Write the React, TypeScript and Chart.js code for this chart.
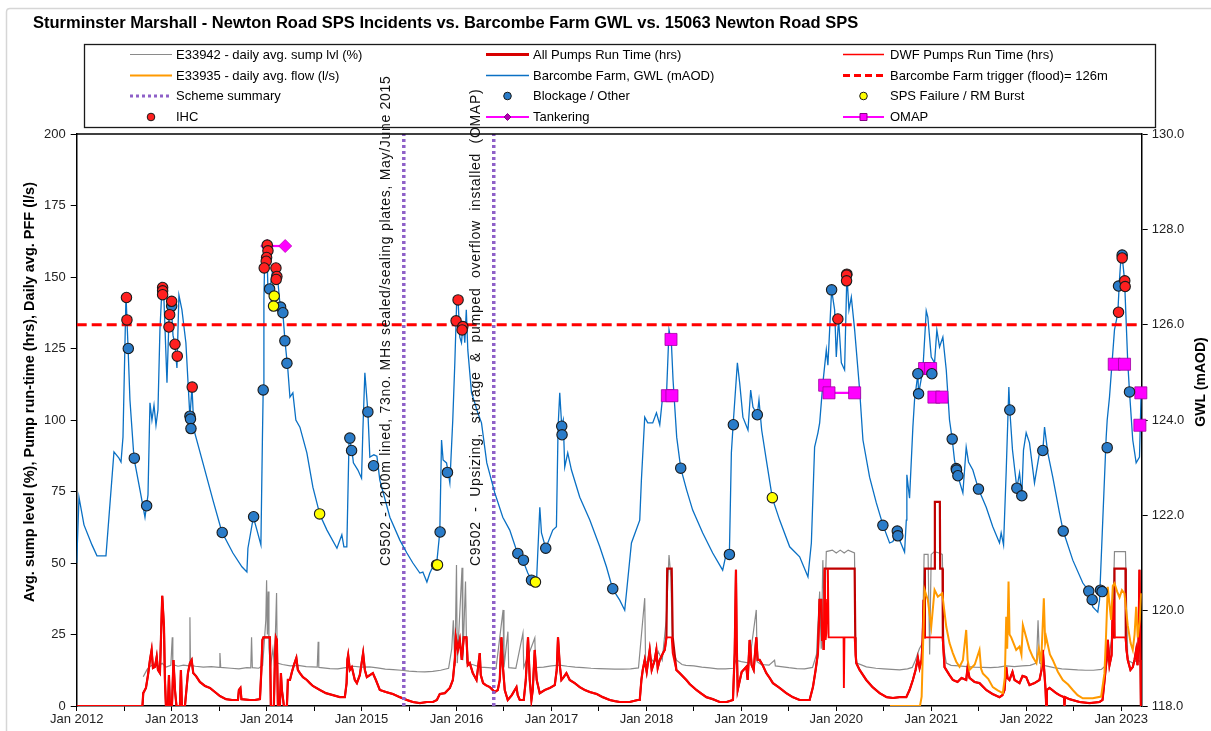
import React, { useEffect, useRef } from 'react';
import { Chart, registerables } from 'chart.js';

Chart.register(...registerables);

const FONT = '"Liberation Sans", Arial, Helvetica, sans-serif';

const TITLE = 'Sturminster Marshall - Newton Road SPS Incidents vs. Barcombe Farm GWL vs. 15063 Newton Road SPS';
const LEFT_TITLE = 'Avg. sump level (%), Pump run-time (hrs), Daily avg. PFF (l/s)';
const RIGHT_TITLE = 'GWL (mAOD)';

// x values are months after 1 Jan 2012
const START_YEAR = 2012;
const X_MAX = 134.6;
const X_TICK_STEP = 6;
const TRIGGER_LEVEL = 126;

type P = [number, number];

// Barcombe Farm GWL (mAOD)
const gwl: P[] = [
  [0,121.0],[0.29,122.38],[0.92,121.80],[1.93,121.38],[2.56,121.15],[3.70,121.15],[4.71,123.33],[5.34,123.20],[5.60,123.12],[5.85,123.64],[6.23,126.62],[6.48,125.57],[6.73,124.42],[7.24,123.20],[8.0,122.53],[8.63,121.96],[9.01,122.43],[9.26,124.36],[9.51,124.00],[9.77,124.31],[10.02,123.89],[10.27,124.21],[10.52,125.89],[10.78,126.79],[11.03,126.52],[11.41,124.78],[11.66,126.10],[11.91,126.52],[12.17,125.78],[12.42,125.57],[12.67,125.09],[12.92,126.62],[13.30,126.31],[13.80,125.62],[14.19,124.42],[14.31,124.06],[14.57,124.69],[14.82,123.79],[15.95,123.10],[17.22,122.32],[18.35,121.65],[19.74,121.21],[20.88,120.92],[21.51,120.81],[21.64,121.31],[22.33,121.96],[22.78,121.69],[23.28,121.38],[23.47,123.58],[23.57,124.63],[23.66,126.52],[23.79,127.67],[24.04,127.57],[24.17,126.73],[24.42,126.73],[24.80,127.19],[25.18,127.04],[25.43,126.90],[25.68,126.45],[26.06,126.24],[26.31,125.68],[26.69,125.05],[26.95,124.48],[27.32,124.57],[27.70,124.00],[28.21,123.85],[29.09,123.31],[29.85,122.59],[30.74,122.01],[31.63,121.69],[32.89,121.31],[33.51,121.59],[33.77,121.34],[34.14,121.34],[34.43,123.64],[34.78,123.37],[34.97,123.10],[35.54,122.95],[36.0,122.78],[36.17,123.79],[36.42,124.99],[36.80,124.17],[37.05,123.22],[37.56,123.27],[37.94,123.24],[38.31,122.74],[39.58,121.96],[40.84,121.48],[41.73,121.21],[42.49,121.00],[43.37,120.79],[43.75,120.81],[44.26,120.60],[44.63,120.79],[45.01,120.92],[45.48,120.96],[45.89,121.65],[46.11,123.58],[46.31,123.16],[46.74,123.10],[47.16,122.68],[47.53,124.00],[47.79,125.20],[48.04,126.58],[48.20,126.52],[48.42,125.74],[48.63,125.62],[48.84,126.04],[49.05,125.62],[49.24,126.31],[49.43,125.47],[49.90,124.57],[50.31,124.36],[50.69,124.15],[51.16,123.94],[51.83,123.10],[52.84,122.47],[53.85,121.96],[54.73,121.69],[55.74,121.19],[56.38,121.06],[57.01,120.79],[57.48,120.64],[58.11,120.60],[58.53,122.17],[58.74,121.63],[59.28,121.31],[60.17,121.69],[60.63,121.76],[60.84,123.85],[61.05,124.57],[61.30,123.87],[61.49,124.00],[61.68,123.01],[62.06,123.31],[62.53,122.95],[63.58,122.38],[64.85,121.90],[66.11,121.34],[66.95,120.92],[67.75,120.45],[68.63,120.22],[69.26,120.01],[69.48,120.37],[70.11,121.42],[71.16,121.90],[71.37,122.74],[71.79,124.06],[72.17,123.94],[72.80,123.94],[73.27,124.15],[73.69,123.90],[74.10,124.57],[74.53,124.48],[74.86,125.89],[75.16,125.62],[75.37,124.84],[75.83,123.64],[76.34,122.99],[77.09,122.53],[77.85,122.11],[79.12,121.63],[80.38,121.21],[81.64,120.85],[82.11,121.21],[82.49,121.19],[82.74,123.31],[82.97,123.92],[83.50,125.20],[83.79,124.78],[84.20,124.06],[84.84,123.79],[85.18,124.63],[85.47,124.27],[86.02,124.11],[86.23,124.42],[86.57,123.79],[87.16,123.16],[87.92,122.36],[88.84,121.90],[90.11,121.34],[91.37,121.13],[92.22,120.79],[92.42,120.71],[92.85,121.42],[93.26,123.43],[93.68,123.73],[93.90,123.94],[94.31,124.78],[94.74,125.47],[94.94,125.15],[95.41,126.73],[95.79,126.31],[96.00,125.32],[96.29,126.12],[96.64,125.20],[97.05,125.05],[97.34,127.06],[97.60,126.31],[97.90,126.58],[98.32,125.89],[98.95,124.63],[99.37,123.58],[100.21,122.80],[101.06,122.26],[101.89,121.80],[102.74,121.42],[103.16,121.45],[103.71,121.67],[104.0,121.48],[104.63,121.23],[104.85,121.90],[104.92,122.85],[105.26,122.36],[105.68,123.85],[105.89,124.42],[106.31,124.97],[106.40,124.55],[106.94,125.05],[107.37,126.29],[107.57,126.16],[108.0,125.32],[108.42,125.20],[108.71,125.89],[109.05,125.53],[109.47,125.74],[109.90,125.05],[110.31,124.00],[110.65,123.60],[110.94,123.16],[111.36,122.83],[112.00,122.47],[112.42,123.43],[112.71,123.12],[113.26,122.95],[113.97,122.55],[114.95,122.17],[115.78,121.76],[116.63,121.42],[116.84,121.63],[117.14,121.38],[117.48,122.95],[117.68,124.00],[117.81,124.69],[117.93,124.21],[118.27,123.37],[118.82,122.57],[119.16,122.89],[119.45,122.41],[119.66,123.37],[120.0,123.73],[120.42,123.52],[121.05,122.68],[121.68,123.31],[122.10,123.35],[122.32,123.85],[122.73,123.31],[123.36,122.80],[124.21,122.05],[124.68,121.67],[125.89,121.06],[127.16,120.58],[127.91,120.41],[128.42,120.08],[129.05,119.97],[129.27,120.22],[129.68,121.90],[130.11,123.64],[130.24,124.00],[130.53,124.48],[131.16,125.89],[131.58,126.24],[131.79,126.94],[132.05,127.57],[132.43,126.94],[132.84,125.20],[133.06,124.59],[133.47,123.58],[133.90,123.10],[134.32,123.22],[134.53,124.59]
];

// E33942 daily avg. sump level (%)
const sumpLevel: P[] = [
  [8.41,10.2],[8.9,12.8],[9.3,13.9],[9.8,14.6],[10.3,13.8],[10.8,14.9],[11.3,13.6],[11.9,14.2],[12.0,20],[12.08,24],[12.15,14.5],[12.8,13.9],[13.5,14.3],[14.2,14.0],[14.31,31],[14.38,14.2],[15.0,13.9],[16,13.6],[17,13.8],[18.0,13.5],[18.1,18.5],[18.2,13.5],[19.5,13.2],[20.5,13.0],[21.5,13.4],[22.0,13.3],[22.1,24],[22.2,13.4],[23.0,13.2],[23.5,14.2],[23.9,30],[24.0,44],[24.1,25],[24.2,40],[24.3,20],[24.5,13.8],[24.8,20],[25.0,14],[25.26,39.5],[25.35,15],[26,14.5],[27,14.0],[28,14.2],[29,13.8],[30.4,13.6],[30.52,22.5],[30.6,13.5],[32,13.1],[33,13.0],[34.2,13.5],[35,13.9],[36,13.6],[37,13.7],[38,13.3],[39,12.9],[40,12.7],[41,12.5],[42,12.2],[43,12.0],[44,11.9],[45,12.1],[46,12.5],[47,13.2],[47.4,20],[47.6,30],[47.8,14],[48.0,49.3],[48.1,15],[48.7,48.3],[48.8,16],[49.14,43.5],[49.3,15],[50,14.5],[51,13.6],[52,13.4],[53,13.2],[53.89,33.6],[54.0,13.5],[54.5,26],[54.6,13.4],[55.5,13.2],[56.4,25.5],[56.5,13.5],[57.9,23.8],[58.0,13.4],[59,13.6],[60,14.0],[61,14.3],[62,13.9],[63,13.6],[64,13.4],[65,13.2],[66,13.1],[67,13.0],[68,12.9],[69,12.9],[70,13.0],[71,13.3],[71.79,37.7],[71.9,15],[72.5,17],[73,15],[73.5,19],[74.0,16],[74.5,30],[74.86,52.8],[75.1,45],[75.3,20],[75.8,16],[76.5,14.5],[77,14.2],[78,14.0],[79,13.6],[80,13.3],[81,13.0],[82,13.0],[83,13.2],[83.3,16],[84,15.5],[85,15],[85.89,33.6],[86.0,15.5],[86.5,14.5],[87.5,14.3],[88.2,16],[88.3,14],[89,13.8],[90,13.4],[91,13.1],[92,13.0],[93,13.5],[93.5,18],[93.9,40],[94.1,20],[94.3,51],[94.5,30],[94.74,54],[95.5,54.5],[96,53.5],[96.5,54.5],[97,53.5],[97.5,54.5],[98.3,53.5],[98.45,20],[98.6,15],[99.8,13.7],[101,13.2],[102,13.0],[103,12.8],[104,12.6],[105,13.0],[105.6,13.5],[106,16],[106.5,20],[106.9,22],[107.1,53],[107.6,53],[107.8,18],[108.0,53],[108.4,54],[109.0,53.5],[109.4,53],[109.6,20],[109.9,15],[110.5,14.2],[111.5,14.0],[112.5,13.8],[113.5,13.6],[114.5,13.5],[115.5,13.4],[116.5,13.6],[117.5,14.0],[118.5,13.8],[119.5,14.0],[120.5,14.2],[121.3,15],[121.5,30],[121.7,15],[122.5,14],[123.5,13.4],[124.5,13.0],[125.5,12.8],[126.5,12.6],[127.5,12.5],[128.5,12.5],[129.5,12.8],[130,14],[130.5,18],[130.9,25],[131.16,54],[132.55,54],[132.84,16],[133.47,15],[134.0,16],[134.5,15.5]
];

// DWF pumps run time (hrs)
const dwfRunTime: P[] = [
  [0,0],[8.31,0],[8.41,4.5],[8.75,6.3],[9.01,10.8],[9.26,16.1],[9.47,19.6],[9.64,13.3],[9.89,13.7],[10.11,17.2],[10.27,12.6],[10.52,11.5],[10.81,38.5],[11.03,27.7],[11.15,9.1],[11.28,0],[11.53,0],[11.66,10.8],[11.78,0],[12.04,0],[12.23,16.1],[12.42,5.6],[12.61,0],[13.05,0],[13.17,12.6],[13.30,0],[13.68,0],[14.06,11.5],[14.31,15.0],[14.53,16.1],[14.73,11.5],[15.07,10.5],[15.57,8.4],[16.21,7.0],[16.84,6.3],[17.47,4.9],[18.10,3.5],[18.86,2.4],[19.62,2.1],[20.38,2.1],[20.50,5.6],[20.69,6.3],[20.82,2.4],[21.89,2.1],[22.52,2.1],[23.16,2.4],[23.34,12.6],[23.47,23.1],[23.60,24],[24.42,24],[24.54,0],[24.92,0],[25.05,16.1],[25.17,24],[25.30,23.1],[25.43,0],[25.68,0],[25.81,11.5],[25.93,5.6],[26.19,0],[26.57,0],[26.69,9.1],[26.95,9.1],[27.20,11.9],[27.45,14.3],[27.76,16.8],[27.95,12.6],[28.21,11.5],[28.59,10.1],[29.09,9.1],[29.47,8.0],[29.85,7.0],[30.74,5.6],[31.49,4.5],[32.38,3.8],[33.26,3.1],[33.89,3.1],[34.11,8.0],[34.21,16.1],[34.31,17.8],[34.52,12.6],[34.77,13.6],[35.15,9.1],[35.41,8.0],[35.78,10.8],[36.20,18.5],[36.42,12.6],[36.67,10.1],[37.05,10.8],[37.43,11.5],[37.81,9.1],[38.31,5.6],[39.07,4.9],[39.95,4.2],[40.84,3.1],[41.72,2.1],[42.48,1.4],[43.37,1.0],[44.25,1.4],[45.01,1.4],[45.52,2.1],[45.89,4.2],[46.53,4.5],[47.16,6.3],[47.54,9.1],[47.79,16.1],[47.91,24],[48.17,19.6],[48.42,23.1],[48.67,16.1],[48.92,24],[49.26,24],[49.43,14.3],[49.68,15.0],[50.06,11.5],[50.53,9.1],[50.69,12.6],[50.94,18.5],[51.07,10.8],[51.36,8.0],[51.70,7.3],[52.21,6.6],[52.84,4.9],[53.22,5.6],[53.47,9.1],[53.68,24],[53.85,14.3],[54.10,5.6],[54.48,2.1],[54.99,3.8],[55.58,6.6],[55.74,3.8],[56.00,2.1],[56.50,2.1],[56.76,9.1],[57.04,24],[57.26,9.1],[57.47,2.1],[57.64,5.6],[57.89,19.6],[58.14,9.1],[58.52,4.5],[59.16,5.6],[59.79,6.3],[60.42,7.3],[60.67,12.6],[60.83,24],[61.05,14.3],[61.26,9.1],[61.55,10.1],[61.89,11.5],[62.31,9.1],[62.94,8.0],[63.58,6.6],[64.21,5.6],[64.84,4.9],[65.72,4.2],[66.48,3.1],[67.37,2.1],[68.00,1.7],[68.63,1.4],[69.89,1.4],[70.90,2.1],[71.16,2.1],[71.37,9.1],[71.54,12.6],[71.79,16.1],[72.04,11.9],[72.42,19.6],[72.67,12.6],[73.05,16.1],[73.26,19.6],[73.43,13.3],[73.69,16.1],[74.10,18.5],[74.32,19.6],[74.53,24],[75.20,24],[75.33,18.5],[75.79,12.6],[76.21,11.5],[77.05,9.1],[77.47,7.7],[78.32,5.6],[78.86,4.5],[79.58,3.1],[80.38,2.4],[81.26,1.4],[82.15,1.4],[82.94,2.1],[83.16,18.5],[83.32,47.6],[83.41,23.1],[83.54,5.6],[84.04,11.9],[84.63,13.7],[84.80,9.1],[85.05,23.1],[85.30,14.3],[85.56,12.6],[85.89,24],[86.06,16.1],[86.31,16.1],[86.69,14.3],[87.16,11.5],[87.58,9.8],[87.99,8.0],[88.84,6.3],[89.68,4.5],[90.48,3.1],[91.37,2.1],[92.63,2.1],[93.05,6.6],[93.39,12.6],[93.68,18.5],[93.89,37.1],[94.11,37.1],[94.21,23.1],[94.31,29.0],[94.40,19.6],[94.53,48],[94.65,23.1],[94.74,25.5],[94.84,37.1],[94.94,48],[95.03,24],[96.92,24],[96.96,6.3],[97.03,24],[98.32,24],[98.45,17.8],[98.53,15.0],[98.95,12.6],[99.79,9.1],[100.59,6.6],[101.48,4.5],[102.36,3.1],[103.16,2.8],[104.00,3.1],[104.85,3.1],[105.26,5.6],[105.68,9.1],[106.02,12.6],[106.31,16.8],[106.53,13.3],[106.78,16.1],[106.91,23.1],[107.04,37.1],[107.16,24],[109.43,24],[109.55,19.6],[109.68,13.6],[110.31,10.8],[110.73,9.1],[111.32,8.4],[111.83,9.8],[112.42,9.1],[112.59,13.3],[112.84,9.8],[113.47,8.4],[114.10,8.0],[114.95,5.6],[115.74,4.2],[116.63,3.1],[117.01,3.8],[117.26,5.6],[117.48,13.6],[117.64,9.8],[117.89,9.1],[118.27,11.9],[118.53,9.1],[119.16,8.0],[119.54,10.5],[120.00,10.1],[120.42,7.3],[121.05,8.0],[121.68,9.1],[121.94,12.6],[122.10,19.6],[122.32,10.8],[122.45,5.6],[122.53,0],[122.61,5.6],[122.95,6.3],[123.80,4.5],[124.21,3.8],[124.78,3.1],[124.84,0],[124.91,3.1],[125.47,2.4],[126.74,1.4],[128.00,1.0],[129.27,1.4],[129.65,2.1],[129.91,9.1],[130.16,16.1],[130.32,23.1],[130.53,14.3],[130.79,17.8],[130.91,30.1],[131.04,37.1],[131.16,24],[132.55,24],[132.68,19.6],[132.84,16.1],[133.18,12.6],[133.47,13.6],[133.69,16.1],[133.90,19.6],[134.07,14.3],[134.20,23.1],[134.32,47.6],[134.44,16.1],[134.50,0]
];

// All pumps run time (hrs): periods where both pumps ran (differs from DWF)
const allPumpsPeaks: P[][] = [
  [[74.53,24],[74.63,48],[75.20,48],[75.33,24]],
  [[94.47,24],[94.53,48],[98.32,48],[98.40,24]],
  [[107.12,24],[107.20,48],[108.42,48],[108.46,71.4],[109.09,71.4],[109.13,48],[109.43,48],[109.47,24]],
  [[131.12,24],[131.16,48],[132.55,48],[132.59,24]]
];

// E33935 daily avg. flow (l/s)
const flow: P[] = [
  [102.79,0],[106.58,0],[106.79,3.3],[107.16,40.6],[107.57,37.1],[108.0,27.7],[108.42,40.6],[108.84,38.2],[109.39,39.4],[109.90,27.7],[110.31,22],[110.73,18.5],[111.16,15.5],[111.58,13.7],[112.0,16],[112.42,26.6],[112.6,16],[112.84,12.6],[113.5,14.5],[114.10,19.6],[114.3,13],[114.52,11.4],[115.2,9.5],[115.78,6.6],[116.4,5.5],[117.05,4.5],[117.3,10],[117.48,31.2],[117.6,20],[117.77,43.5],[117.9,25],[118.11,24],[118.74,19.6],[119.16,20.8],[119.4,18],[119.58,28.3],[120.0,24],[120.4,20],[120.84,17.1],[121.3,15],[121.6,20],[121.9,15.5],[122.23,37.7],[122.4,22],[122.53,24],[123.0,18],[123.36,16.1],[124.0,12],[124.63,9.1],[125.3,7.5],[125.89,5.6],[126.5,3.8],[127.15,2.7],[128.42,2.7],[129.47,3.3],[129.89,11.4],[130.1,25],[130.31,41.7],[130.55,35],[130.74,30.1],[130.95,42],[131.16,42.9],[131.5,40],[131.8,38],[132.1,40.5],[132.42,39.4],[132.84,28.1],[133.2,22],[133.47,19.6],[133.7,25],[133.90,34.7],[134.1,24],[134.35,30],[134.53,39.4]
];

// Incidents (month, GWL at time of incident)
const ihc: P[] = [
  [6.29,126.57],[6.35,126.10],[10.86,126.78],[10.86,126.71],[10.86,126.63],[12.0,126.49],[11.75,126.21],[11.66,125.95],[12.42,125.59],[12.71,125.34],[14.60,124.69],[24.08,127.67],[24.17,127.55],[24.0,127.41],[23.95,127.33],[23.70,127.19],[25.18,127.19],[25.30,127.01],[25.21,126.95],[48.20,126.52],[47.95,126.08],[48.80,125.96],[48.71,125.89],[96.20,126.12],[97.34,127.06],[97.30,127.04],[97.30,126.92],[132.13,127.40],[132.46,126.92],[132.51,126.80],[131.67,126.26]
];
const blockage: P[] = [
  [6.52,125.50],[7.28,123.20],[8.84,122.20],[12.0,126.39],[14.31,124.08],[14.38,124.02],[14.44,123.82],[18.39,121.64],[22.36,121.97],[23.57,124.63],[24.38,126.75],[25.77,126.37],[26.06,126.25],[26.31,125.66],[26.57,125.19],[34.52,123.62],[34.74,123.36],[36.80,124.17],[37.52,123.04],[45.93,121.65],[46.86,122.90],[55.75,121.20],[56.46,121.06],[57.48,120.64],[59.28,121.31],[61.30,123.87],[61.34,123.69],[67.75,120.46],[76.34,122.99],[82.49,121.18],[82.99,123.90],[86.02,124.11],[95.41,126.73],[101.89,121.79],[103.71,121.67],[103.78,121.57],[106.31,124.97],[106.40,124.55],[108.08,124.97],[110.65,123.60],[111.16,122.98],[111.20,122.95],[111.37,122.83],[113.97,122.55],[117.93,124.21],[118.82,122.57],[119.45,122.41],[122.10,123.36],[124.68,121.67],[127.91,120.41],[128.34,120.23],[129.39,120.43],[129.60,120.40],[130.24,123.42],[131.67,126.81],[132.13,127.46],[133.06,124.59]
];
const spsFailure: P[] = [
  [24.96,126.60],[24.88,126.39],[30.70,122.03],[45.48,120.96],[45.60,120.96],[57.98,120.60],[87.92,122.37]
];
const tankering: P[][] = [[[24.08,127.65],[26.35,127.65]]];
const omap: P[][] = [
  [[75.11,125.69]],
  [[74.65,124.51],[75.23,124.51]],
  [[94.53,124.73],[95.08,124.57],[98.32,124.57]],
  [[107.16,125.08],[107.92,125.08]],
  [[108.34,124.48],[109.35,124.48]],
  [[131.13,125.17],[132.43,125.17]],
  [[134.49,124.57]],
  [[134.37,123.89]]
];

// Scheme summary (month of scheme completion)
const schemeMonths = [41.34, 52.71];
const schemeNotes = [
  'C9502 - 1200m lined, 73no. MHs sealed/sealing plates, May/June 2015',
  'C9502 - Upsizing, storage & pumped overflow installed (OMAP)'
];

const GRAY = '#8a8a8a';
const DARK_RED = '#c00000';
const RED = '#ff0000';
const ORANGE = '#ff9a00';
const BLUE = '#0a70c4';
const PURPLE = '#8e60c8';
const MAGENTA = '#ff00ff';
const MARK_BLUE = '#2a7cc9';
const MARK_RED = '#ff2020';
const MARK_YELLOW = '#ffff00';

const xy = (arr: P[]) => arr.map(([x, y]) => ({ x, y }));
const groupsXY = (groups: P[][]) => {
  const out: { x: number; y: number | null }[] = [];
  groups.forEach((g) => {
    g.forEach(([x, y]) => out.push({ x, y }));
    out.push({ x: g[g.length - 1][0], y: null });
  });
  return out;
};
const buildAllPumps = () => {
  const ranges = allPumpsPeaks.map((g) => [g[0][0], g[g.length - 1][0]]);
  const base = dwfRunTime.filter(([m]) => !ranges.some(([a, b]) => m >= a && m <= b));
  return xy([...base, ...allPumpsPeaks.flat()].sort((a, b) => a[0] - b[0]));
};

type LegendItem = { label: string; kind: string; color?: string; width?: number; fill?: string; shape?: string };
const legendItems: LegendItem[] = [
  { label: 'E33942 - daily avg. sump lvl (%)', kind: 'line', color: GRAY, width: 1.2 },
  { label: 'All Pumps Run Time (hrs)', kind: 'line', color: '#d80000', width: 3 },
  { label: 'DWF Pumps Run Time (hrs)', kind: 'line', color: RED, width: 1.3 },
  { label: 'E33935 - daily avg. flow (l/s)', kind: 'line', color: ORANGE, width: 2 },
  { label: 'Barcombe Farm, GWL (mAOD)', kind: 'line', color: BLUE, width: 1.3 },
  { label: 'Barcombe Farm trigger (flood)= 126m', kind: 'dash', color: RED, width: 3 },
  { label: 'Scheme summary', kind: 'dot', color: PURPLE, width: 3 },
  { label: 'Blockage / Other', kind: 'marker', fill: MARK_BLUE, shape: 'circle' },
  { label: 'SPS Failure / RM Burst', kind: 'marker', fill: MARK_YELLOW, shape: 'circle' },
  { label: 'IHC', kind: 'marker', fill: MARK_RED, shape: 'circle' },
  { label: 'Tankering', kind: 'lineMarker', color: MAGENTA, width: 2.2, fill: '#b000b0', shape: 'diamond' },
  { label: 'OMAP', kind: 'lineMarker', color: MAGENTA, width: 2.2, fill: MAGENTA, shape: 'square' }
];

function drawMarker(ctx: CanvasRenderingContext2D, shape: string, x: number, y: number, r: number, fill: string, stroke: string) {
  ctx.beginPath();
  if (shape === 'circle') ctx.arc(x, y, r, 0, Math.PI * 2);
  else if (shape === 'square') ctx.rect(x - r, y - r, 2 * r, 2 * r);
  else { ctx.moveTo(x, y - r); ctx.lineTo(x + r, y); ctx.lineTo(x, y + r); ctx.lineTo(x - r, y); ctx.closePath(); }
  ctx.fillStyle = fill; ctx.fill();
  ctx.lineWidth = 1; ctx.strokeStyle = stroke; ctx.stroke();
}

const decorPlugin = {
  id: 'decor',
  beforeDraw(chart: any) {
    const ctx: CanvasRenderingContext2D = chart.ctx;
    ctx.save();
    ctx.fillStyle = '#fff';
    ctx.fillRect(0, 0, chart.width, chart.height);
    // outer frame
    ctx.strokeStyle = '#d6d6d6'; ctx.lineWidth = 1.5;
    ctx.beginPath(); ctx.moveTo(6.5, chart.height); ctx.lineTo(6.5, 12); ctx.quadraticCurveTo(6.5, 8.5, 10, 8.5); ctx.lineTo(chart.width, 8.5); ctx.stroke();
    // title
    ctx.fillStyle = '#000'; ctx.font = `bold 16.5px ${FONT}`; ctx.textBaseline = 'middle'; ctx.textAlign = 'left';
    ctx.fillText(TITLE, 33, 23);
    // legend
    ctx.strokeStyle = '#1a1a1a'; ctx.lineWidth = 1.3;
    ctx.strokeRect(84.5, 44.5, 1071, 83);
    const cols = [{ s: 130, e: 172, t: 176 }, { s: 486, e: 529, t: 533 }, { s: 843, e: 884, t: 890 }];
    const rows = [54.5, 75.5, 96, 117];
    ctx.font = `13px ${FONT}`;
    legendItems.forEach((it, i) => {
      const c = cols[i % 3]; const y = rows[Math.floor(i / 3)]; const mid = (c.s + c.e) / 2;
      ctx.save();
      if (it.kind === 'line' || it.kind === 'dash' || it.kind === 'dot' || it.kind === 'lineMarker') {
        ctx.strokeStyle = it.color!; ctx.lineWidth = it.width!;
        if (it.kind === 'dash') ctx.setLineDash([7, 4]);
        if (it.kind === 'dot') ctx.setLineDash([3, 3]);
        ctx.beginPath(); ctx.moveTo(c.s, y); ctx.lineTo(c.e, y); ctx.stroke();
        ctx.setLineDash([]);
      }
      if (it.kind === 'marker') drawMarker(ctx, it.shape!, mid, y, 3.8, it.fill!, '#1a1a1a');
      if (it.kind === 'lineMarker') drawMarker(ctx, it.shape!, mid, y, 3.5, it.fill!, '#8a008a');
      ctx.restore();
      ctx.fillStyle = '#000'; ctx.textBaseline = 'middle'; ctx.textAlign = 'left';
      ctx.fillText(it.label, c.t, y + 0.5);
    });
    ctx.restore();
  },
  afterDraw(chart: any) {
    const ctx: CanvasRenderingContext2D = chart.ctx;
    const a = chart.chartArea;
    const xs = chart.scales.x;
    ctx.save();
    // top border of plot
    ctx.strokeStyle = '#000'; ctx.lineWidth = 1.5;
    ctx.beginPath(); ctx.moveTo(a.left, a.top); ctx.lineTo(a.right, a.top); ctx.stroke();
    // axis titles
    ctx.fillStyle = '#000'; ctx.font = `bold 14.5px ${FONT}`; ctx.textAlign = 'center'; ctx.textBaseline = 'middle';
    ctx.save(); ctx.translate(30, 392); ctx.rotate(-Math.PI / 2); ctx.fillText(LEFT_TITLE, 0, 0); ctx.restore();
    ctx.font = `bold 14px ${FONT}`;
    ctx.save(); ctx.translate(1201, 382); ctx.rotate(-Math.PI / 2); ctx.fillText(RIGHT_TITLE, 0, 0); ctx.restore();
    // scheme notes
    ctx.font = `14px ${FONT}`; ctx.textAlign = 'left'; ctx.fillStyle = '#111';
    schemeMonths.forEach((m, i) => {
      const x = xs.getPixelForValue(m) - 18;
      ctx.save(); ctx.translate(x, a.bottom - 140); ctx.rotate(-Math.PI / 2);
      (ctx as any).letterSpacing = '0.7px';
      if (i === 1) (ctx as any).wordSpacing = '5px';
      ctx.fillText(schemeNotes[i], 0, 0);
      ctx.restore();
    });
    ctx.restore();
  }
};

export default function App() {
  const ref = useRef<HTMLCanvasElement>(null);
  useEffect(() => {
    document.body.style.margin = '0';
    const canvas = ref.current!;
    const tick = { color: '#222', font: { size: 13, family: FONT } };
    const markerDs = (label: string, data: P[], fill: string, order: number) => ({
      label, data: xy(data), showLine: false, pointRadius: 5.2, pointBackgroundColor: fill,
      pointBorderColor: '#1a1a1a', pointBorderWidth: 1.1, yAxisID: 'y1', order, clip: false as any
    });
    const schemeData: { x: number; y: number | null }[] = [];
    schemeMonths.forEach((m) => { schemeData.push({ x: m, y: 0 }, { x: m, y: 200 }, { x: m, y: null }); });

    const chart = new Chart(canvas, {
      type: 'line',
      data: {
        datasets: [
          markerDs('IHC', ihc, MARK_RED, 1),
          markerDs('SPS Failure / RM Burst', spsFailure, MARK_YELLOW, 2),
          markerDs('Blockage / Other', blockage, MARK_BLUE, 3),
          {
            label: 'OMAP', data: groupsXY(omap), yAxisID: 'y1', order: 4, borderColor: MAGENTA, borderWidth: 2.2,
            pointStyle: 'rect', pointRadius: 8.5, pointBackgroundColor: MAGENTA, pointBorderColor: '#a000a0', pointBorderWidth: 0.8,
            spanGaps: false, clip: false as any
          },
          {
            label: 'Tankering', data: groupsXY(tankering), yAxisID: 'y1', order: 5, borderColor: MAGENTA, borderWidth: 2.2,
            pointStyle: 'rectRot', pointRadius: 6.5, pointBackgroundColor: MAGENTA, pointBorderColor: '#c000c0', pointBorderWidth: 0.8,
            spanGaps: false, clip: false as any
          },
          {
            label: 'Barcombe Farm trigger (flood)= 126m', data: [{ x: 0, y: TRIGGER_LEVEL }, { x: X_MAX, y: TRIGGER_LEVEL }],
            yAxisID: 'y1', order: 6, borderColor: RED, borderWidth: 3, borderDash: [10, 5], pointRadius: 0
          },
          {
            label: 'Barcombe Farm, GWL (mAOD)', data: xy(gwl), yAxisID: 'y1', order: 7, borderColor: BLUE, borderWidth: 1.3,
            pointRadius: 0, tension: 0
          },
          {
            label: 'Scheme summary', data: schemeData, yAxisID: 'y', order: 8, borderColor: PURPLE, borderWidth: 3.5,
            borderDash: [3, 3], pointRadius: 0, spanGaps: false
          },
          {
            label: 'E33935 - daily avg. flow (l/s)', data: xy(flow), yAxisID: 'y', order: 9, borderColor: ORANGE, borderWidth: 2,
            pointRadius: 0
          },
          {
            label: 'DWF Pumps Run Time (hrs)', data: xy(dwfRunTime), yAxisID: 'y', order: 10, borderColor: RED, borderWidth: 1.9,
            pointRadius: 0
          },
          {
            label: 'All Pumps Run Time (hrs)', data: buildAllPumps(), yAxisID: 'y', order: 11, borderColor: DARK_RED, borderWidth: 2.2,
            pointRadius: 0
          },
          {
            label: 'E33942 - daily avg. sump lvl (%)', data: xy(sumpLevel), yAxisID: 'y', order: 12, borderColor: GRAY, borderWidth: 1.2,
            pointRadius: 0
          }
        ] as any
      },
      options: {
        animation: false,
        responsive: false,
        events: [],
        layout: { padding: { top: 134, left: 0, right: 0, bottom: 0 } },
        plugins: { legend: { display: false }, title: { display: false }, tooltip: { enabled: false } },
        scales: {
          x: {
            type: 'linear', min: 0, max: X_MAX,
            afterFit: (s: any) => { s.height = 25; },
            afterBuildTicks: (s: any) => {
              const t: { value: number }[] = [];
              for (let v = 0; v <= X_MAX; v += X_TICK_STEP) t.push({ value: v });
              s.ticks = t;
            },
            ticks: {
              ...tick, stepSize: X_TICK_STEP, autoSkip: false, maxRotation: 0, minRotation: 0, padding: 1,
              callback: (v: any) => (Math.round(v) % 12 === 0 ? 'Jan ' + (START_YEAR + Math.round(v) / 12) : '')
            },
            grid: { drawOnChartArea: false, tickLength: 5, color: '#000', tickWidth: 1 },
            border: { color: '#000', width: 1.5 }
          },
          y: {
            position: 'left', min: 0, max: 200,
            afterFit: (s: any) => { s.width = 76.7; },
            ticks: { ...tick, stepSize: 25, padding: 5 },
            grid: { drawOnChartArea: false, tickLength: 6, color: '#000' },
            border: { color: '#000', width: 1.5 }
          },
          y1: {
            position: 'right', min: 118, max: 130,
            afterFit: (s: any) => { s.width = 1211 - 1141.7; },
            ticks: { ...tick, stepSize: 2, padding: 4, callback: (v: any) => Number(v).toFixed(1) },
            grid: { drawOnChartArea: false, tickLength: 6, color: '#000' },
            border: { color: '#000', width: 1.5 }
          }
        }
      } as any,
      plugins: [decorPlugin]
    });
    return () => chart.destroy();
  }, []);
  return (
    <div style={{ position: 'relative', width: 1211, height: 731 }}>
      <canvas ref={ref} width={1211} height={731} style={{ display: 'block', width: 1211, height: 731 }} />
    </div>
  );
}
